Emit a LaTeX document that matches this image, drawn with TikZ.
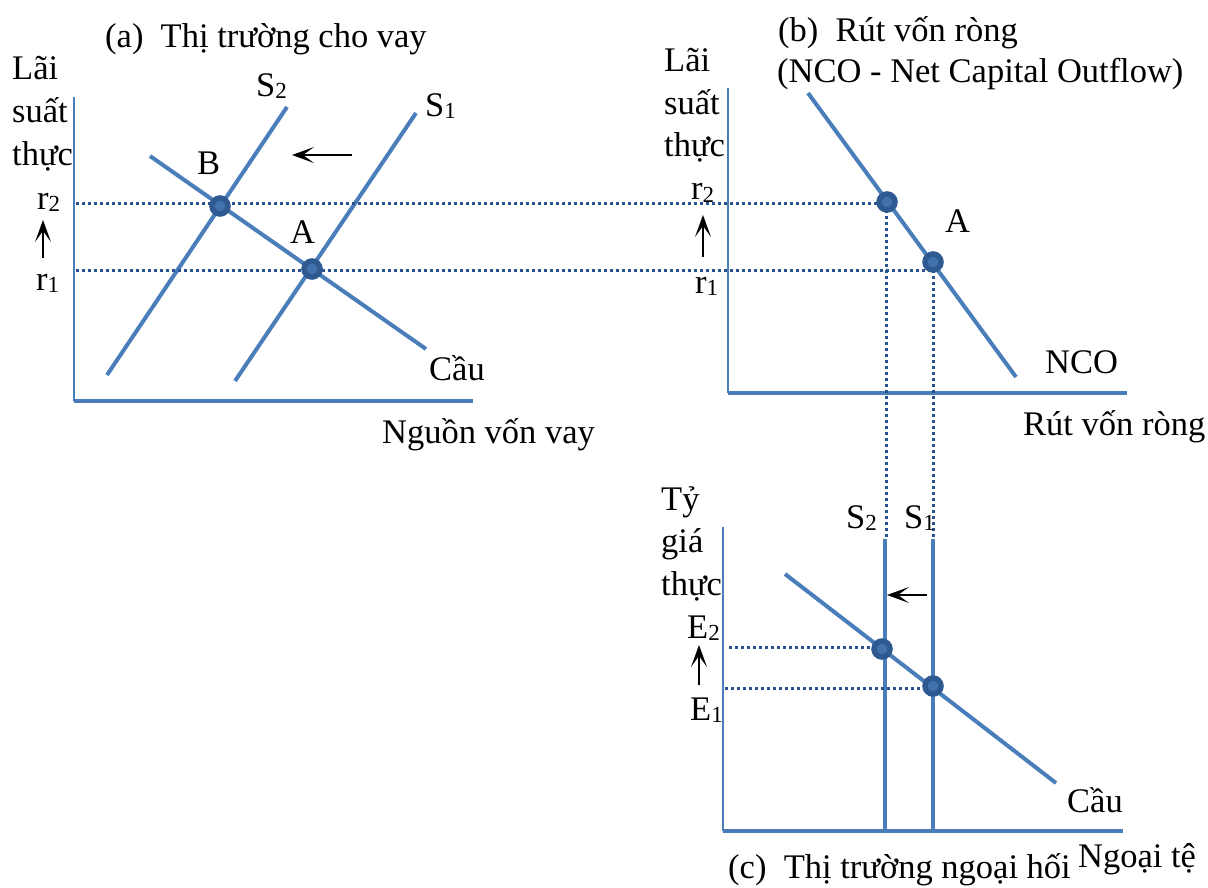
\documentclass[tikz,border=0pt]{standalone}
\usepackage{fontspec}
\setmainfont{Liberation Serif}
\usetikzlibrary{arrows.meta}
\definecolor{lineblue}{HTML}{4A7EBB}
\definecolor{dotblue}{HTML}{2B5290}
\definecolor{ptfill}{HTML}{4272AE}
\definecolor{ptring}{HTML}{2E5A91}
\newcommand\sbs[1]{\raisebox{-2pt}{\fontsize{23}{26}\selectfont #1}}
\begin{document}
\begin{tikzpicture}[x=1pt,y=-1pt,
  lbl/.style={font=\fontsize{34.5}{40}\selectfont, inner sep=0pt, anchor=base west},
  curve/.style={line width=4pt, draw=lineblue},
  yaxis/.style={line width=2.2pt, draw=lineblue},
  xaxis/.style={line width=4pt, draw=lineblue},
  guide/.style={line width=3pt, draw=dotblue, dash pattern=on 3pt off 3pt},
  eqpt/.style={circle, fill=ptfill, draw=ptring, line width=5.5pt, minimum size=16pt, inner sep=0pt},
  shiftarrow/.style={line width=1.7pt, draw=black, -{Stealth[length=22pt,width=16pt,inset=11pt]}}
]
\useasboundingbox (0,0) rectangle (1208,888);

% ---------- Panel (a) ----------
\coordinate (ayt) at (74,97);
\coordinate (ao) at (74,401);
\coordinate (axr) at (473,401);
\draw[yaxis] (ayt) -- (ao);
\draw[xaxis] (ao) -- (axr);

\coordinate (s2a0) at (107,375); \coordinate (s2a1) at (287,107);
\coordinate (s1a0) at (235,381); \coordinate (s1a1) at (416,113);
\coordinate (da0) at (150,156);  \coordinate (da1) at (426,349);
\draw[curve] (s2a0) -- (s2a1);
\draw[curve] (s1a0) -- (s1a1);
\draw[curve] (da0) -- (da1);

% guides r2, r1 across to panel (b)
\coordinate (g2l) at (76,203); \coordinate (g2r) at (887,203);
\coordinate (g1l) at (76,270); \coordinate (g1r) at (933,270);
\draw[guide] (g2l) -- (g2r);
\draw[guide] (g1l) -- (g1r);

\node[eqpt] (B) at (220,206) {};
\node[eqpt] (Aa) at (312,269) {};

\node[lbl] (ta) at (105,48) {(a)\ \ Thị trường cho vay};
\node[lbl] (la1) at (12,80) {Lãi};
\node[lbl] (la2) at (12,123) {suất};
\node[lbl] (la3) at (12,166) {thực};
\node[lbl] (r2a) at (37,209) {r\sbs{2}};
\node[lbl] (r1a) at (36,290) {r\sbs{1}};
\coordinate (ara0) at (43,258); \coordinate (ara1) at (43,220);
\draw[shiftarrow] (ara0) -- (ara1);
\node[lbl] (s2al) at (256,97) {S\sbs{2}};
\node[lbl] (s1al) at (425,117) {S\sbs{1}};
\node[lbl] (Bl) at (197,175) {B};
\node[lbl] (Aal) at (290,243) {A};
\node[lbl] (cau_a) at (429,380) {Cầu};
\node[lbl] (nva) at (382,443) {Nguồn vốn vay};
\coordinate (sha0) at (352,155); \coordinate (sha1) at (292,155);
\draw[shiftarrow] (sha0) -- (sha1);

% ---------- Panel (b) ----------
\coordinate (byt) at (728,88);
\coordinate (bo) at (728,393);
\coordinate (bxr) at (1127,393);
\draw[yaxis] (byt) -- (bo);
\draw[xaxis] (bo) -- (bxr);
\coordinate (nco0) at (808,93); \coordinate (nco1) at (1016,377);
\draw[curve] (nco0) -- (nco1);

% vertical guides down to panel (c)
\coordinate (v2t) at (886,204); \coordinate (v2b) at (886,539);
\coordinate (v1t) at (933,264); \coordinate (v1b) at (933,539);
\draw[guide] (v2t) -- (v2b);
\draw[guide] (v1t) -- (v1b);

\node[eqpt] (Pb2) at (887,202) {};
\node[eqpt] (Pb1) at (933,262) {};

\node[lbl] (tb1) at (778,42) {(b)\ \ Rút vốn ròng};
\node[lbl] (tb2) at (777,83) {(NCO - Net Capital Outflow)};
\node[lbl] (lb1) at (664,72) {Lãi};
\node[lbl] (lb2) at (664,115) {suất};
\node[lbl] (lb3) at (664,157) {thực};
\node[lbl] (r2b) at (691,200) {r\sbs{2}};
\node[lbl] (r1b) at (695,293) {r\sbs{1}};
\coordinate (arb0) at (703,257); \coordinate (arb1) at (703,215);
\draw[shiftarrow] (arb0) -- (arb1);
\node[lbl] (Abl) at (945,233) {A};
\node[lbl] (ncol) at (1045,373) {NCO};
\node[lbl] (rvr) at (1023,435) {Rút vốn ròng};

% ---------- Panel (c) ----------
\coordinate (cyt) at (723,527);
\coordinate (co) at (723,831);
\coordinate (cxr) at (1123,831);
\draw[yaxis] (cyt) -- (co);
\draw[xaxis] (co) -- (cxr);
\coordinate (s2c0) at (885,539); \coordinate (s2c1) at (885,831);
\coordinate (s1c0) at (933,539); \coordinate (s1c1) at (933,831);
\coordinate (dc0) at (785,574);  \coordinate (dc1) at (1056,783);
\draw[curve] (s2c0) -- (s2c1);
\draw[curve] (s1c0) -- (s1c1);
\draw[curve] (dc0) -- (dc1);

\coordinate (e2l) at (729,647); \coordinate (e2r) at (882,647);
\coordinate (e1l) at (725,688); \coordinate (e1r) at (933,688);
\draw[guide] (e2l) -- (e2r);
\draw[guide] (e1l) -- (e1r);

\node[eqpt] (Pc2) at (882,649) {};
\node[eqpt] (Pc1) at (933,686) {};

\node[lbl] (lc1) at (661,510) {Tỷ};
\node[lbl] (lc2) at (661,552) {giá};
\node[lbl] (lc3) at (661,595) {thực};
\node[lbl] (e2) at (687,638) {E\sbs{2}};
\node[lbl] (e1) at (690,720) {E\sbs{1}};
\coordinate (arc0) at (699,685); \coordinate (arc1) at (699,645);
\draw[shiftarrow] (arc0) -- (arc1);
\node[lbl] (s2cl) at (846,528) {S\sbs{2}};
\node[lbl] (s1cl) at (904,528) {S\sbs{1}};
\coordinate (shc0) at (927,595); \coordinate (shc1) at (887,595);
\draw[shiftarrow] (shc0) -- (shc1);
\node[lbl] (cau_c) at (1067,812) {Cầu};
\node[lbl] (ngt) at (1078,867) {Ngoại tệ};
\node[lbl] (tc) at (728,878) {(c)\ \ Thị trường ngoại hối};
\end{tikzpicture}
\end{document}
